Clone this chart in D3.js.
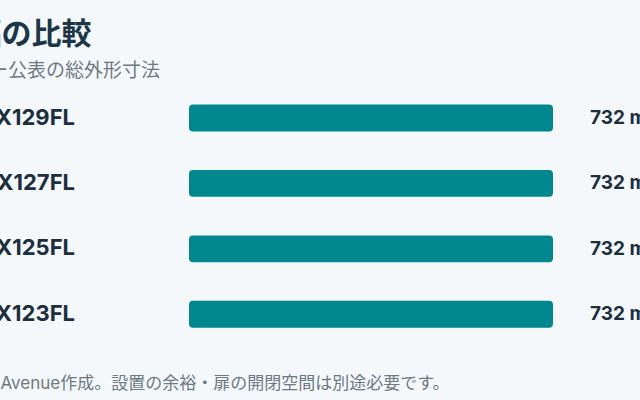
<!DOCTYPE html>
<html>
<head>
<meta charset="utf-8">
<script src="https://cdn.jsdelivr.net/npm/d3@7"></script>
<style>
  html, body { margin: 0; padding: 0; background: #f4f8fa; overflow: hidden; }
  svg { display: block; }
</style>
</head>
<body>
<svg id="chart" width="640" height="400"></svg>
<script>
// ---- data ----
const models = ["NA-LX129FL", "NA-LX127FL", "NA-LX125FL", "NA-LX123FL"];
const widths = [732, 732, 732, 732];
const unit = "mm";
const titlePrefix = "ドラム式洗濯機の横幅";
const titleRest = "の比較";
const subtitlePrefix = "メーカー";
const subtitleRest = "公表の総外形寸法";
const footerPrefix = "出典：各メーカー公式サイトの仕様をもとにKaden ";
const footerRest = "Avenue作成。設置の余裕・扉の開閉空間は別途必要です。";

const latin = "Inter, 'Noto Sans CJK JP', sans-serif";
const cjk = "'Noto Sans CJK JP', 'Noto Sans', sans-serif";

const svg = d3.select("#chart");
svg.append("rect").attr("width", 640).attr("height", 400).attr("fill", "#f4f8fa");

const data = models.map((m, i) => ({ model: m, value: widths[i] }));

const x = d3.scaleLinear().domain([0, d3.max(widths)]).range([189, 553]);
const y = d3.scaleBand().domain(models).range([85, 347.3]).paddingInner(0.59).paddingOuter(0.3);

// helper: text whose visible part starts at targetX; the hidden prefix runs off the left edge
function splitText(prefix, rest, targetX, yPos, attrs) {
  const t = svg.append("text").attr("y", yPos).attr("x", 0);
  Object.entries(attrs).forEach(([k, v]) => t.attr(k, v));
  const p = t.append("tspan").text(prefix);
  t.append("tspan").text(rest);
  const w = p.node().getComputedTextLength();
  t.attr("x", targetX - w);
  return t;
}

splitText(titlePrefix, titleRest, 1.5, 44, {
  "font-family": cjk, "font-size": 30, "font-weight": 700, fill: "#1b3647"
});
splitText(subtitlePrefix, subtitleRest, 8, 77, {
  "font-family": cjk, "font-size": 19, fill: "#6c7a84"
});

// bars
svg.append("g").selectAll("rect").data(data).join("rect")
  .attr("x", x(0))
  .attr("y", d => y(d.model))
  .attr("width", d => x(d.value) - x(0))
  .attr("height", y.bandwidth())
  .attr("rx", 4).attr("ry", 4)
  .attr("fill", "#00878f");

// category labels
svg.append("g").selectAll("text").data(data).join("text")
  .attr("x", 75)
  .attr("y", d => y(d.model) + y.bandwidth() / 2)
  .attr("dy", "0.3em")
  .attr("text-anchor", "end")
  .attr("font-family", latin).attr("font-size", 22).attr("font-weight", 700)
  .attr("fill", "#1b2f3e")
  .text(d => d.model);

// value labels
svg.append("g").selectAll("text").data(data).join("text")
  .attr("x", d => x(d.value) + 37)
  .attr("y", d => y(d.model) + y.bandwidth() / 2)
  .attr("dy", "0.3em")
  .attr("font-family", latin).attr("font-size", 19).attr("font-weight", 700)
  .attr("fill", "#1b2f3e")
  .text(d => `${d.value} ${unit}`);

// footer
splitText(footerPrefix, footerRest, 0.5, 389, {
  "font-family": latin, "font-size": 17, fill: "#6c7a84"
});
</script>
</body>
</html>
